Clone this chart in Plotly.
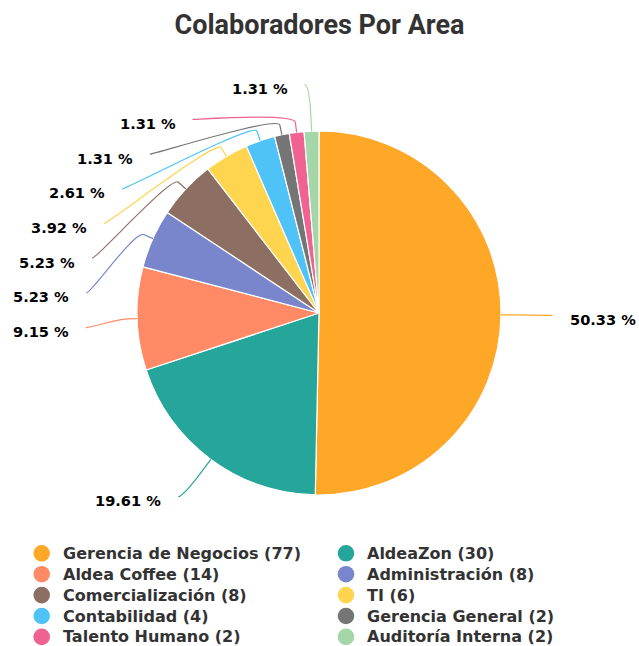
import math
import plotly.graph_objects as go

# ---------------- data ----------------
areas = ["Gerencia de Negocios", "AldeaZon", "Aldea Coffee", "Administración",
         "Comercialización", "TI", "Contabilidad", "Gerencia General",
         "Talento Humano", "Auditoría Interna"]
counts = [77, 30, 14, 8, 8, 6, 4, 2, 2, 2]
colors = ["#FFA726", "#26A69A", "#FF8A65", "#7986CB", "#8D6E63",
          "#FFD54F", "#4FC3F7", "#757575", "#F06292", "#A5D6A7"]
chart_title = "Colaboradores Por Area"

# ---------------- layout constants (pixels) ----------------
W, H = 639, 646
CX, CY, R = 319, 313, 182
LABEL_DIST = 46.5
PAD = 5
SLOT = 34.7
BREAK = 10
# legend grid
LEG_COL_X = [41.7, 346.0]      # symbol centres
LEG_TEXT_DX = 20.0             # symbol centre -> text start
LEG_ROW0_Y = 553.3
LEG_ROW_H = 20.9
LEG_DOT_R = 8.3


def px(x):
    return x / W


def py(y):
    return 1 - y / H


total = sum(counts)

fig = go.Figure()
fig.add_trace(go.Pie(
    labels=areas, values=counts, sort=False, direction="clockwise", rotation=0,
    marker=dict(colors=colors, line=dict(color="white", width=1.2)),
    textinfo="none", showlegend=False, hoverinfo="label+value+percent",
    domain=dict(x=[px(CX - R), px(CX + R)], y=[py(CY + R), py(CY - R)]),
))

# ---------------- outside labels with connectors ----------------
RL = R + LABEL_DIST
items = []
cum = 0.0
for i, v in enumerate(counts):
    frac = v / total
    theta = 2 * math.pi * (cum + frac / 2)
    cum += frac
    s, c = math.sin(theta), math.cos(theta)
    items.append(dict(i=i, s=s, c=c, ny=CY - RL * c, left=s < 0))

for side in (True, False):
    grp = sorted([it for it in items if it["left"] == side], key=lambda it: it["ny"])
    prev = -1e9
    for it in grp:
        y = max(it["ny"], prev + SLOT)
        it["y"] = y
        prev = y

shapes = []
annotations = []
for it in items:
    moved = abs(it["y"] - it["ny"]) > 1e-6
    ycalc = it["y"] if moved else it["ny"]
    dy = ycalc - CY
    dx = math.sqrt(max(RL * RL - dy * dy, 0)) + PAD
    sign = -1 if it["left"] else 1
    lx, ly = CX + sign * dx, it["y"]
    tx, ty = CX + R * it["s"], CY - R * it["c"]
    bx, by = tx + BREAK * it["s"], ty - BREAK * it["c"]
    c2x, c2y = 2 * bx - tx, 2 * by - ty
    c1x = lx + (5 if it["left"] else -5)
    path = (f"M {px(lx)},{py(ly)} C {px(c1x)},{py(ly)} {px(c2x)},{py(c2y)} "
            f"{px(bx)},{py(by)} L {px(tx)},{py(ty)}")
    shapes.append(dict(type="path", path=path, xref="paper", yref="paper",
                       line=dict(color=colors[it["i"]], width=1.2)))
    pct = counts[it["i"]] / total * 100
    annotations.append(dict(
        text=f"{pct:.2f} %", showarrow=False, xref="paper", yref="paper",
        x=px(lx - 15) if it["left"] else px(lx + 16),
        xanchor="right" if it["left"] else "left",
        y=py(ly + 4), yanchor="middle",
        font=dict(family="DejaVu Sans", size=14.6, color="#000000", weight="bold"),
    ))

# ---------------- legend (two columns, circle symbols) ----------------
for k, (name, v, col) in enumerate(zip(areas, counts, colors)):
    sx = LEG_COL_X[k % 2]
    sy = LEG_ROW0_Y + LEG_ROW_H * (k // 2)
    shapes.append(dict(type="circle", xref="paper", yref="paper",
                       x0=px(sx - LEG_DOT_R), x1=px(sx + LEG_DOT_R),
                       y0=py(sy + LEG_DOT_R), y1=py(sy - LEG_DOT_R),
                       fillcolor=col, line=dict(width=0)))
    annotations.append(dict(
        text=f"{name} ({v})", showarrow=False, xref="paper", yref="paper",
        x=px(sx + LEG_TEXT_DX - 1), xanchor="left", y=py(sy), yanchor="middle",
        font=dict(family="DejaVu Sans", size=16, color="#333333", weight="bold"),
    ))

fig.update_layout(
    width=W, height=H,
    margin=dict(l=0, r=0, t=0, b=0),
    paper_bgcolor="white", plot_bgcolor="white",
    showlegend=False,
    title=dict(text=chart_title, x=0.5, xanchor="center", y=py(25), yanchor="middle",
               yref="container",
               font=dict(family="Roboto", size=27, color="#333333", weight="bold")),
    shapes=shapes, annotations=annotations,
)

fig.write_html("out.html", config={"displayModeBar": False},
               post_script="document.body.style.margin='0';")
